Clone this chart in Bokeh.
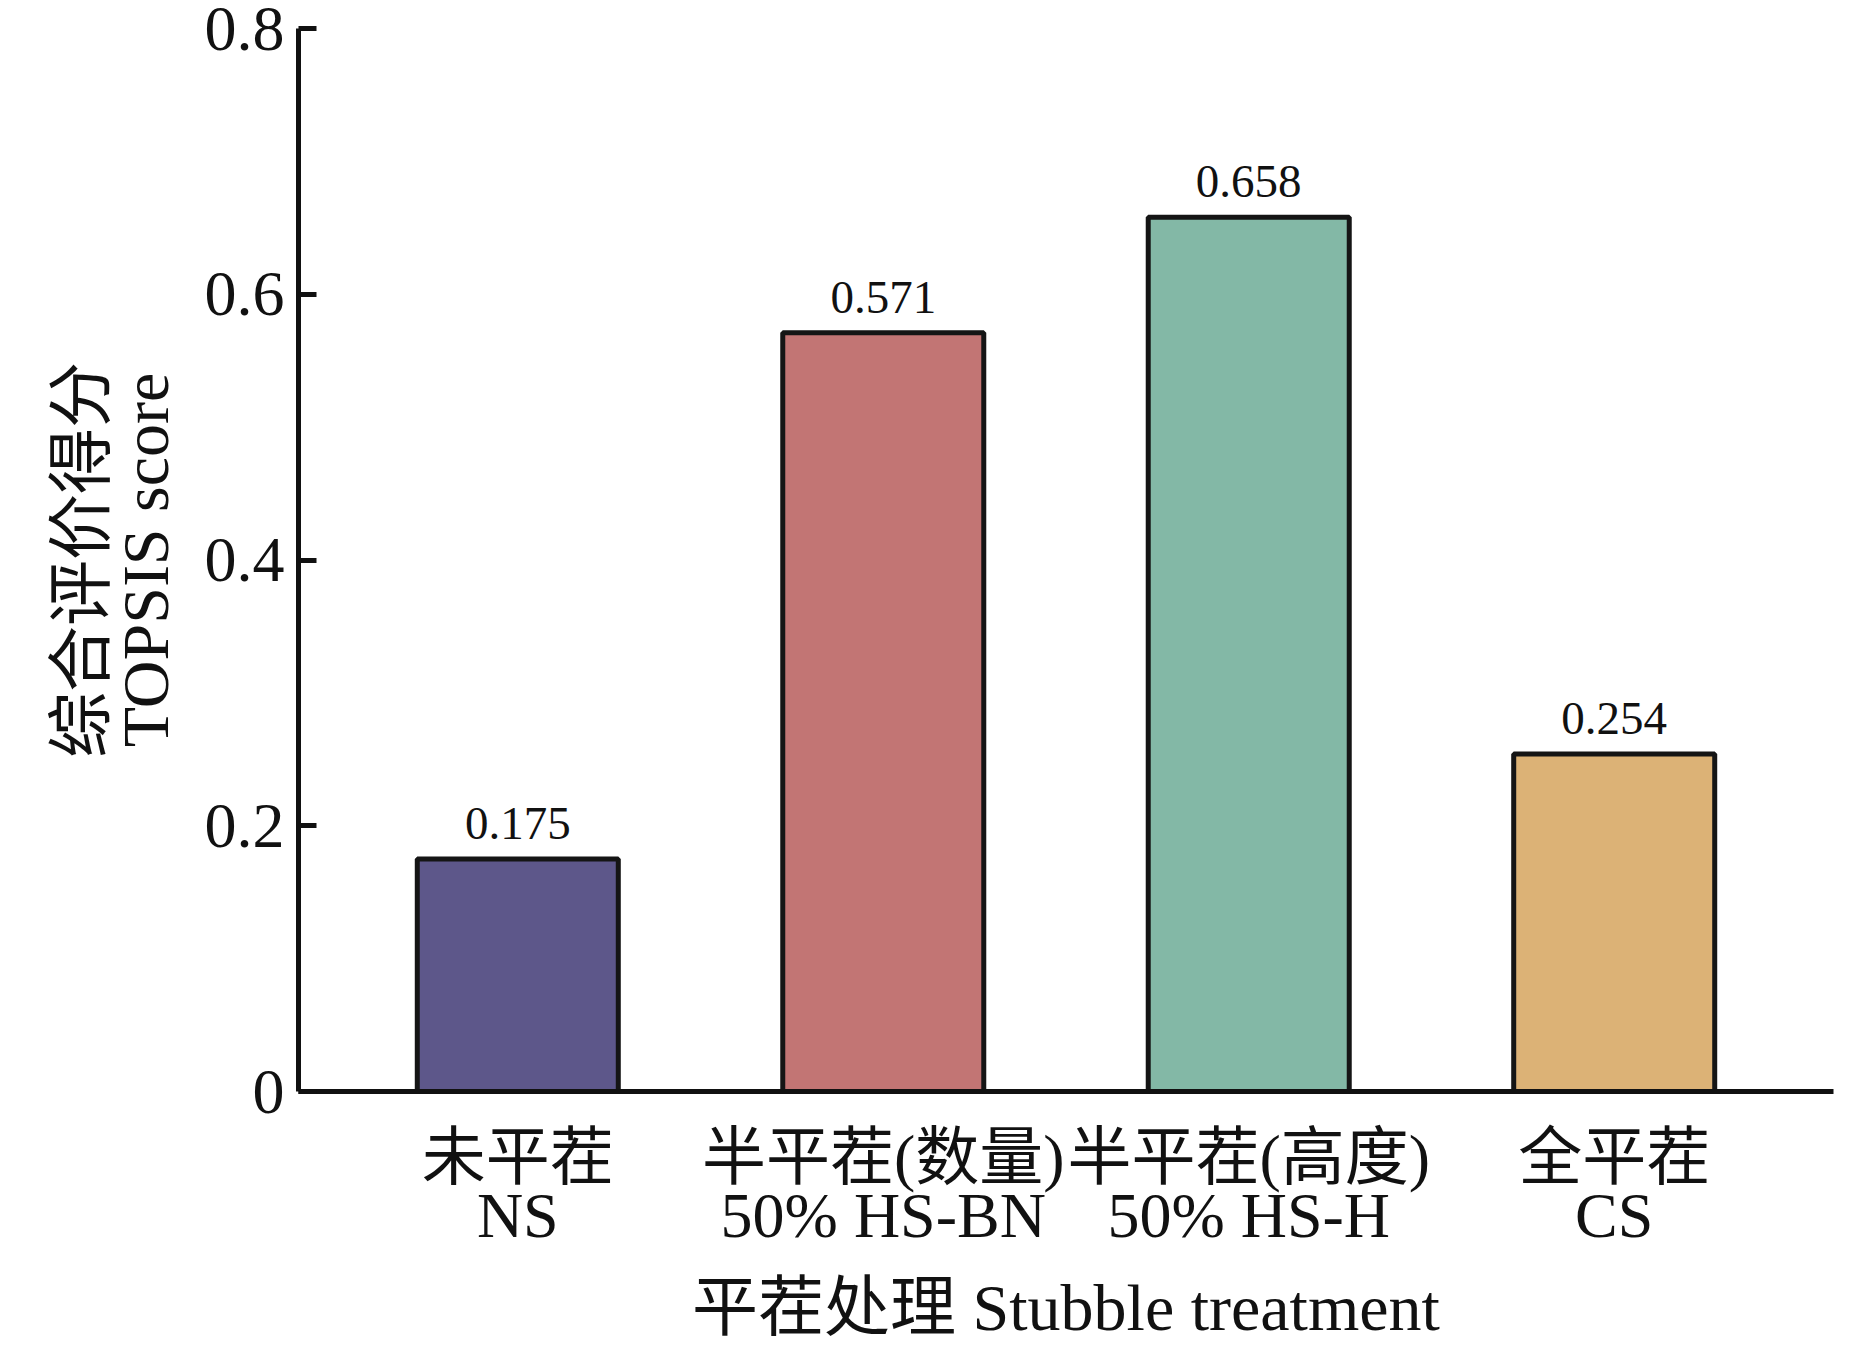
from bokeh.plotting import figure
from bokeh.models import (ColumnDataSource, FactorRange, Range1d, FixedTicker,
                          NumeralTickFormatter, LabelSet, LinearAxis, CategoricalAxis)
from bokeh.embed import file_html
from bokeh.resources import INLINE

# ---- data ----
categories = ["未平茬", "半平茬(数量)", "半平茬(高度)", "全平茬"]
categories_en = ["NS", "50% HS-BN", "50% HS-H", "CS"]
scores = [0.175, 0.571, 0.658, 0.254]
colors = ["#5D578A", "#C27574", "#83B8A6", "#DCB276"]
y_ticks = [0, 0.2, 0.4, 0.6, 0.8]
x_title = "平茬处理 Stubble treatment"
y_title_cn = "综合评价得分"
y_title_en = "TOPSIS score"

FONT = "'Liberation Serif', 'Noto Sans CJK SC'"
INK = "#111111"
PAD = 0.05

src = ColumnDataSource(dict(
    cat=categories,
    score=scores,
    color=colors,
    label=[f"{v:.3f}" for v in scores],
))

p = figure(
    x_range=FactorRange(*categories, range_padding=PAD),
    y_range=Range1d(0, 0.8),
    width=1850, height=1346,
    output_backend="svg", toolbar_location=None,
    min_border_left=298, min_border_right=17,
    min_border_top=28, min_border_bottom=254,
)
p.extra_x_ranges = {"en": FactorRange(*categories_en, range_padding=PAD)}
p.outline_line_color = None
p.xgrid.grid_line_color = None
p.ygrid.grid_line_color = None
p.background_fill_color = "white"
p.border_fill_color = "white"

p.vbar(x="cat", top="score", width=0.55, source=src,
       fill_color="color", line_color="#151515", line_width=5)

labels = LabelSet(x="cat", y="score", text="label", source=src,
                  text_align="center", text_baseline="alphabetic",
                  y_offset=20, text_font=FONT, text_font_size="47px",
                  text_color=INK)
p.add_layout(labels)

# ---- y axis ----
ya = p.yaxis[0]
ya.ticker = FixedTicker(ticks=y_ticks)
ya.formatter = NumeralTickFormatter(format="0.[0]")
ya.axis_line_width = 5
ya.axis_line_color = INK
ya.major_tick_line_width = 5
ya.major_tick_line_color = INK
ya.major_tick_in = 18
ya.major_tick_out = 0
ya.minor_tick_line_color = None
ya.major_label_text_font = FONT
ya.major_label_text_font_size = "64px"
ya.major_label_text_color = INK
ya.major_label_standoff = 14
ya.axis_label = y_title_en
ya.axis_label_text_font = FONT
ya.axis_label_text_font_size = "66px"
ya.axis_label_text_font_style = "normal"
ya.axis_label_text_color = INK
ya.axis_label_standoff = 20

ya2 = LinearAxis(ticker=FixedTicker(ticks=[]), axis_line_color=None,
                 major_tick_line_color=None, minor_tick_line_color=None,
                 major_tick_in=0, major_tick_out=0,
                 axis_label=y_title_cn, axis_label_text_font=FONT,
                 axis_label_text_font_size="66px",
                 axis_label_text_font_style="normal",
                 axis_label_text_color=INK,
                 axis_label_standoff=-12, major_label_standoff=0)
p.add_layout(ya2, "left")

# ---- x axis: Chinese line ----
xa = p.xaxis[0]
xa.axis_line_width = 5
xa.axis_line_color = INK
xa.major_tick_line_color = None
xa.major_tick_in = 0
xa.major_tick_out = 0
xa.major_label_text_font = FONT
xa.major_label_text_font_size = "64px"
xa.major_label_text_color = INK
xa.major_label_standoff = 30

# ---- x axis: English line + title ----
xb = CategoricalAxis(
    x_range_name="en",
    axis_line_color=None, major_tick_line_color=None, minor_tick_line_color=None,
    major_tick_in=0, major_tick_out=0,
    major_label_text_font=FONT, major_label_text_font_size="64px",
    major_label_text_color=INK, major_label_standoff=-16,
    axis_label=x_title, axis_label_text_font=FONT,
    axis_label_text_font_size="66px", axis_label_text_font_style="normal",
    axis_label_text_color=INK, axis_label_standoff=17,
)
p.add_layout(xb, "below")

open("out.html", "w").write(file_html(p, INLINE))
